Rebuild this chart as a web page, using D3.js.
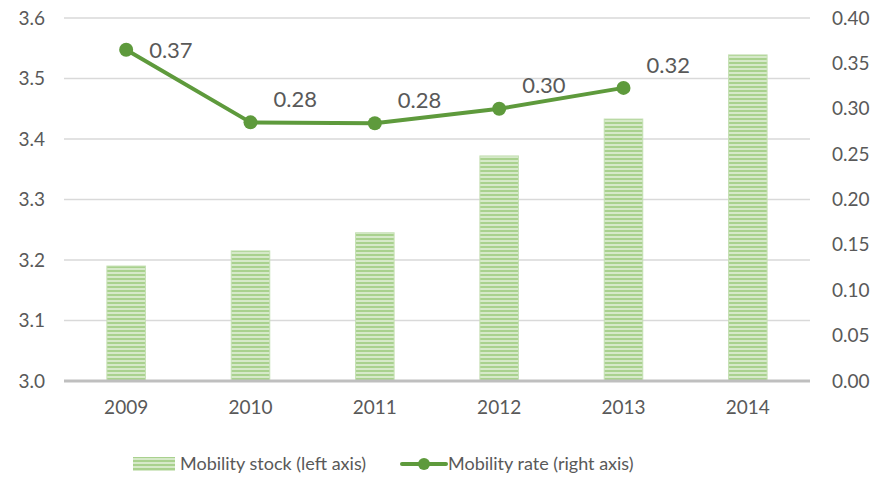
<!DOCTYPE html>
<html lang="en">
<head>
  <meta charset="UTF-8">
  <title>Mobility stock and rate</title>
  <script src="https://d3js.org/d3.v7.min.js"></script>
  <style>
    body { margin: 0; background: #fff; }
    text { font-family: Lato, "Open Sans", sans-serif; fill: #595959; }
  </style>
</head>
<body>
  <div id="chart"></div>
  <script>
    // data
    const years = ["2009", "2010", "2011", "2012", "2013", "2014"];
    const stock = [3.19, 3.215, 3.245, 3.372, 3.433, 3.539];
    const rate = [0.365, 0.285, 0.284, 0.30, 0.323];
    const rateLabels = ["0.37", "0.28", "0.28", "0.30", "0.32"];
    const leftTicks = [3.0, 3.1, 3.2, 3.3, 3.4, 3.5, 3.6];
    const rightTicks = [0, 0.05, 0.1, 0.15, 0.2, 0.25, 0.3, 0.35, 0.4];

    const W = 879, H = 480;
    const margin = { top: 18, right: 69, bottom: 99, left: 64 };
    const width = W - margin.left - margin.right;
    const height = H - margin.top - margin.bottom;

    const svg = d3.select("#chart").append("svg")
      .attr("width", W).attr("height", H);

    const defs = svg.append("defs");
    const pat = defs.append("pattern")
      .attr("id", "stripes")
      .attr("patternUnits", "userSpaceOnUse")
      .attr("width", 8).attr("height", 4);
    pat.append("rect").attr("width", 8).attr("height", 4).attr("fill", "#d6e9c9");
    pat.append("rect").attr("width", 8).attr("height", 2).attr("fill", "#a9d18e");

    const g = svg.append("g")
      .attr("transform", "translate(" + margin.left + "," + margin.top + ")");

    const x = d3.scaleBand().domain(years).range([0, width]).paddingInner(0.69).paddingOuter(0.345);
    const yL = d3.scaleLinear().domain([3.0, 3.6]).range([height, 0]);
    const yR = d3.scaleLinear().domain([0, 0.4]).range([height, 0]);

    // gridlines
    g.append("g")
      .selectAll("line")
      .data(leftTicks.slice(1))
      .enter().append("line")
      .attr("x1", 0).attr("x2", width)
      .attr("y1", d => yL(d)).attr("y2", d => yL(d))
      .attr("stroke", "#d9d9d9").attr("stroke-width", 1.5);

    // bars
    g.selectAll(".bar")
      .data(stock)
      .enter().append("rect")
      .attr("class", "bar")
      .attr("x", (d, i) => x(years[i]))
      .attr("width", x.bandwidth())
      .attr("y", d => yL(d))
      .attr("height", d => height - yL(d))
      .attr("fill", "url(#stripes)")
      .attr("stroke", "#c5e0b4").attr("stroke-width", 1);

    // baseline
    g.append("line")
      .attr("x1", 0).attr("x2", width)
      .attr("y1", height).attr("y2", height)
      .attr("stroke", "#bfbfbf").attr("stroke-width", 3);

    // left axis
    const la = g.append("g").call(d3.axisLeft(yL).tickValues(leftTicks).tickFormat(d3.format(".1f")).tickSize(0).tickPadding(19));
    la.select(".domain").remove();
    la.selectAll("text").style("font-size", "19px").style("font-family", "Lato, sans-serif").attr("fill", "#595959");

    // right axis
    const ra = g.append("g").attr("transform", "translate(" + width + ",0)")
      .call(d3.axisRight(yR).tickValues(rightTicks).tickFormat(d3.format(".2f")).tickSize(0).tickPadding(22));
    ra.select(".domain").remove();
    ra.selectAll("text").style("font-size", "19px").style("font-family", "Lato, sans-serif").attr("fill", "#595959");

    // bottom axis
    const ba = g.append("g").attr("transform", "translate(0," + height + ")")
      .call(d3.axisBottom(x).tickSize(0).tickPadding(20));
    ba.select(".domain").remove();
    ba.selectAll("text").style("font-size", "19px").style("font-family", "Lato, sans-serif").attr("fill", "#595959");

    // line
    const cx = i => x(years[i]) + x.bandwidth() / 2;
    const line = d3.line().x((d, i) => cx(i)).y(d => yR(d));
    g.append("path")
      .datum(rate)
      .attr("d", line)
      .attr("fill", "none")
      .attr("stroke", "#5e9a3c").attr("stroke-width", 4).attr("stroke-linejoin", "round");

    g.selectAll(".dot")
      .data(rate)
      .enter().append("circle")
      .attr("cx", (d, i) => cx(i))
      .attr("cy", d => yR(d))
      .attr("r", 7)
      .attr("fill", "#5e9a3c");

    g.selectAll(".lbl")
      .data(rate)
      .enter().append("text")
      .attr("x", (d, i) => cx(i) + 23)
      .attr("y", d => Math.max(yR(d) - 23, 32))
      .attr("dy", "0.35em")
      .style("font-size", "22px")
      .text((d, i) => rateLabels[i]);

    // legend
    const leg = svg.append("g").attr("transform", "translate(0,464)");
    leg.append("rect").attr("x", 133).attr("y", -7).attr("width", 42).attr("height", 14)
      .attr("fill", "url(#stripes)");
    leg.append("text").attr("x", 180).attr("y", 0).attr("dy", "0.35em")
      .style("font-size", "18px").text("Mobility stock (left axis)");
    leg.append("line").attr("x1", 402).attr("x2", 446).attr("y1", 0).attr("y2", 0)
      .attr("stroke", "#5e9a3c").attr("stroke-width", 4).attr("stroke-linecap", "round");
    leg.append("circle").attr("cx", 424).attr("cy", 0).attr("r", 6).attr("fill", "#5e9a3c");
    leg.append("text").attr("x", 448).attr("y", 0).attr("dy", "0.35em")
      .style("font-size", "18px").text("Mobility rate (right axis)");
  </script>
</body>
</html>
